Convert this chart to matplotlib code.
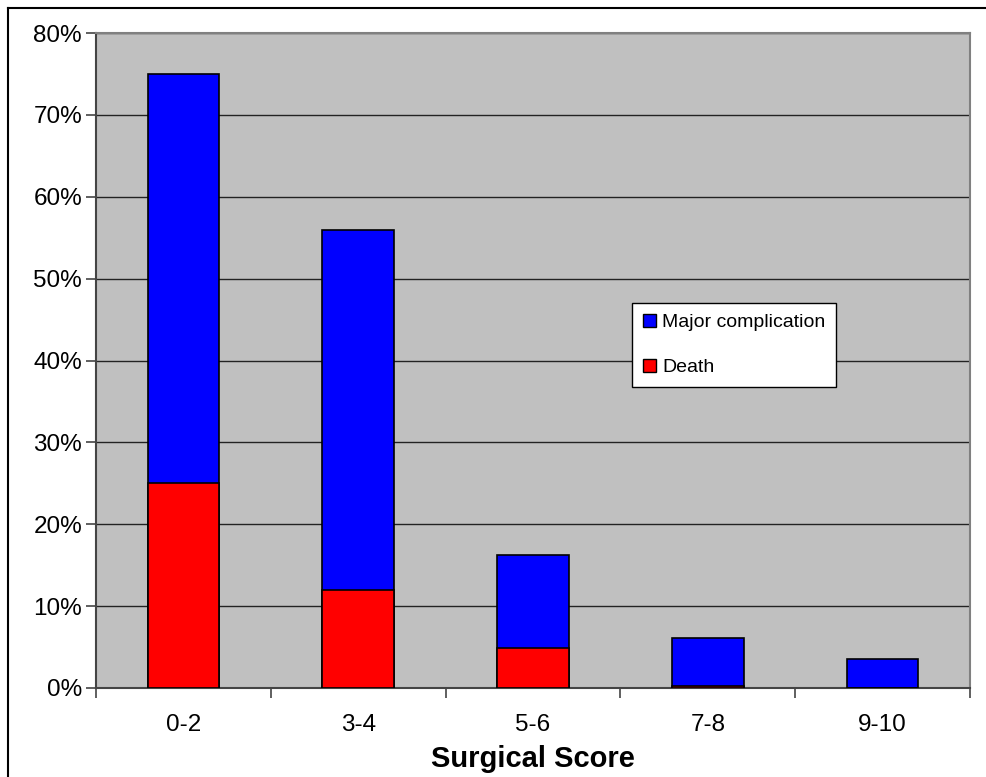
import matplotlib.pyplot as plt
from matplotlib.lines import Line2D
import numpy as np

plt.rcParams['font.family'] = ['Liberation Sans', 'DejaVu Sans']

scores = ['0-2', '3-4', '5-6', '7-8', '9-10']
major_complication = [75.0, 56.0, 16.3, 6.1, 3.6]
death = [25.0, 12.0, 4.9, 0.3, 0.0]

fig = plt.figure(figsize=(9.87, 7.77), dpi=100)
ax = fig.add_axes([96 / 987, 1 - 688 / 777, (970 - 96) / 987, (688 - 33) / 777])
ax.set_facecolor('#c0c0c0')

x = np.arange(len(scores))
w = 0.41
ax.bar(x, major_complication, w, color='#0000ff', edgecolor='black', linewidth=1.2,
       label='Major complication', zorder=3)
ax.bar(x, death, w, color='#ff0000', edgecolor='black', linewidth=1.2,
       label='Death', zorder=4)

ax.set_xlim(-0.5, len(scores) - 0.5)
ax.set_ylim(0, 80)
ax.set_yticks(np.arange(0, 81, 10))
ax.set_yticklabels([f'{v}%' for v in range(0, 81, 10)])
ax.yaxis.grid(True, color='#222222', linewidth=1.0, zorder=1)
ax.set_axisbelow(True)

# category labels centred, tick marks between categories
ax.set_xticks(x)
ax.set_xticklabels(scores)
ax.set_xticks(np.arange(-0.5, len(scores)), minor=True)
ax.tick_params(axis='x', which='major', length=0, labelsize=17.5, pad=19)
ax.tick_params(axis='x', which='minor', length=7, width=1.2, color='#444444')
ax.tick_params(axis='y', length=7, width=1.2, color='#444444', labelsize=17.5, pad=3)

for side in ['top', 'right']:
    ax.spines[side].set_color('#808080')
    ax.spines[side].set_linewidth(1.5)
for side in ['left', 'bottom']:
    ax.spines[side].set_color('#444444')
    ax.spines[side].set_linewidth(1.5)

ax.set_xlabel('Surgical Score', fontsize=21, fontweight='bold')
ax.xaxis.set_label_coords(0.5, -0.087)

leg = ax.legend(loc='upper left', bbox_to_anchor=(632 / 987, 1 - 303 / 777),
                bbox_transform=fig.transFigure, borderaxespad=0, fontsize=14,
                frameon=True, fancybox=False, shadow=False, framealpha=1,
                handlelength=0.7, handleheight=0.7, handletextpad=0.3,
                labelspacing=1.4, borderpad=0.55)
leg.get_frame().set_edgecolor('black')
leg.get_frame().set_linewidth(1.0)
for h in leg.legend_handles:
    h.set_linewidth(1.0)

# outer chart frame (left and top edges visible)
fig.add_artist(Line2D([8 / 987, 8 / 987], [0, 1 - 8 / 777], color='black',
                      linewidth=1.5, transform=fig.transFigure))
fig.add_artist(Line2D([8 / 987, 1], [1 - 8 / 777, 1 - 8 / 777], color='black',
                      linewidth=1.5, transform=fig.transFigure))

fig.savefig('out.png', dpi=100)
